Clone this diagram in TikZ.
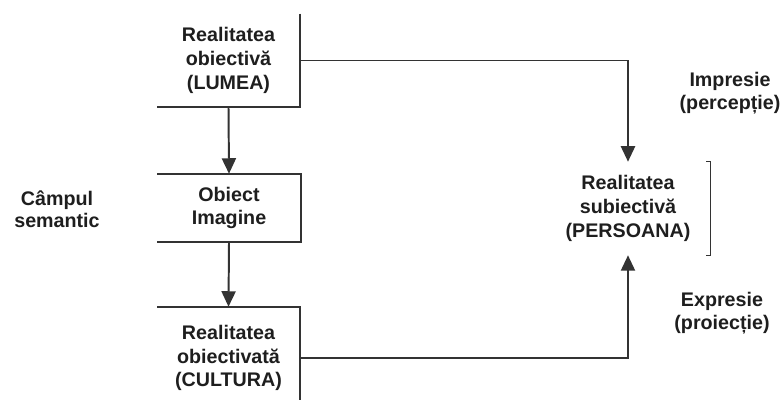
\documentclass[tikz,border=0pt]{standalone}
\usepackage{fontspec}
\setmainfont{Liberation Sans}
\usetikzlibrary{arrows.meta,positioning}
\definecolor{ink}{HTML}{1E1E1E}
\definecolor{rule}{HTML}{333333}

\begin{document}
\begin{tikzpicture}[x=0.025cm,y=-0.025cm,
  font=\bfseries\fontsize{14}{17}\selectfont,
  lbl/.style={align=center,text=ink,inner sep=0pt},
  side/.style={lbl,font=\bfseries\fontsize{14}{16}\selectfont},
  box/.style={lbl,minimum width=143*0.025cm},
  edge/.style={rule,line width=1.4pt},
  arr/.style={edge,-{Triangle[width=10pt,length=11pt]}}]
  \useasboundingbox (0,0) rectangle (784,400);
  \fill[white] (0,0) rectangle (784,400);
  % boxes
  \node[box,minimum height=93*0.025cm] (lumea) at (228.5,60.5) {Realitatea\\obiectivă\\(LUMEA)};
  \node[box,minimum height=68*0.025cm] (obiect) at (229,208) {Obiect\\Imagine};
  \node[box,minimum height=102*0.025cm] (cultura) at (228.5,358) {Realitatea\\obiectivată\\(CULTURA)};
  \node[lbl,minimum width=164*0.025cm,minimum height=93*0.025cm] (persoana) at (628,208.5) {Realitatea\\subiectivă\\(PERSOANA)};
  % side labels
  \node[side] (camp) at (57,209) {Câmpul\\semantic};
  \node[side] (impresie) at (730,93) {Impresie\\(percepție)};
  \node[side] (expresie) at (722,313) {Expresie\\(proiecție)};
  % box edges (as in the scan)
  \draw[edge] (lumea.north east) -- (lumea.south east) -- (lumea.south west);
  \draw[edge] (obiect.north west) -- (obiect.north east) -- (obiect.south east) -- (obiect.south west);
  \draw[edge] (cultura.south east) -- (cultura.north east) -- (cultura.north west);
  % connectors
  \draw[arr] (lumea.east) -| (persoana.north);
  \draw[arr] (lumea.south) -- (obiect.north);
  \draw[arr] (obiect.south) -- (cultura.north);
  \draw[arr] (cultura.east) -| (persoana.south);
  % bracket
  \draw[rule,line width=1pt] (persoana.north east) ++(-4,0) -- (persoana.north east) -- (persoana.south east) -- ++(-4,0);
\end{tikzpicture}
\end{document}
